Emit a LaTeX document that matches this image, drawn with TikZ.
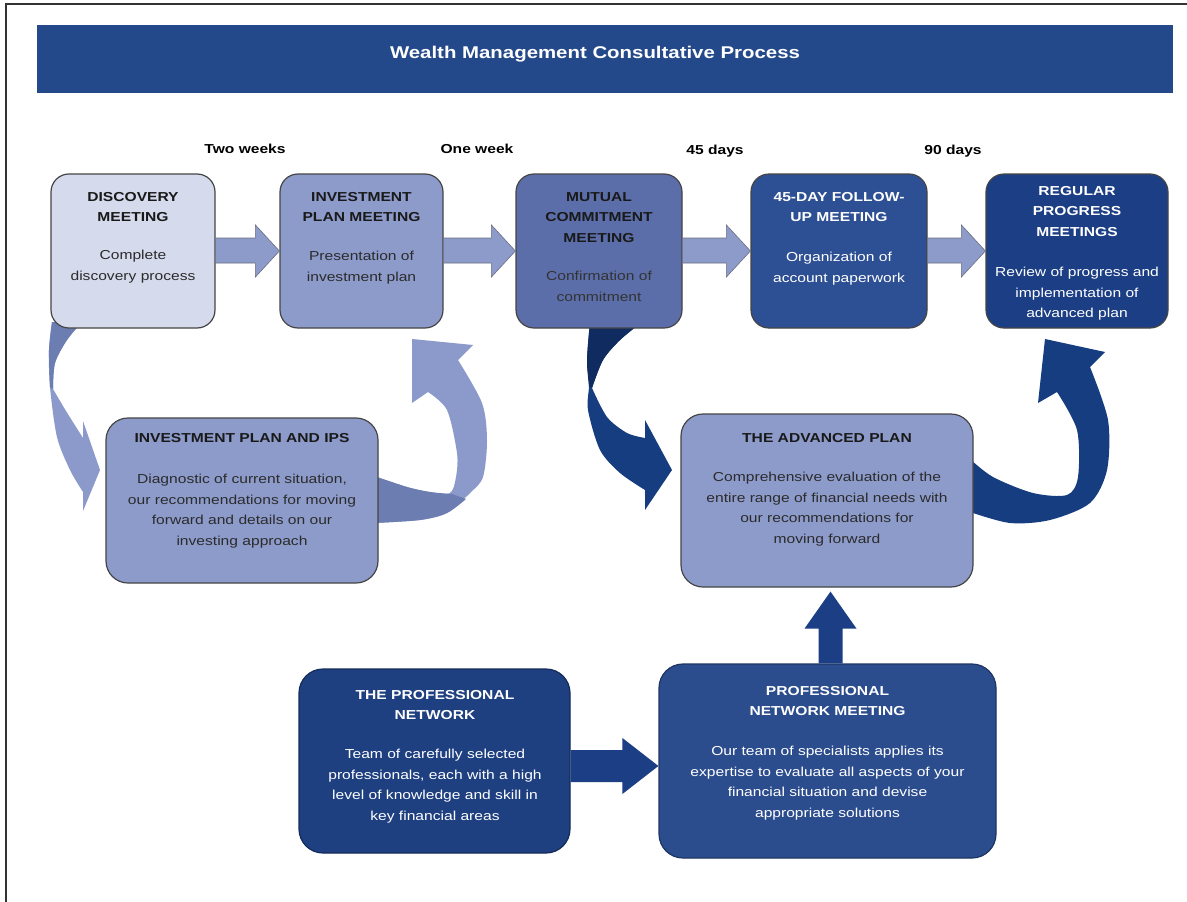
\documentclass[tikz,border=0pt]{standalone}
\usepackage{fontspec}
\setmainfont{Liberation Sans}[FakeStretch=1.2]
\usetikzlibrary{calc}

\definecolor{hdr}{HTML}{24498A}
\definecolor{paleA}{HTML}{D5DAEC}
\definecolor{midA}{HTML}{8D9BCB}
\definecolor{midB}{HTML}{5B6EAA}
\definecolor{deepA}{HTML}{2D4F93}
\definecolor{deepB}{HTML}{1B3E84}
\definecolor{navyA}{HTML}{1E3F80}
\definecolor{navyB}{HTML}{2B4C8D}
\definecolor{ribLight}{HTML}{8B9ACA}
\definecolor{ribLightBack}{HTML}{6C7DB1}
\definecolor{ribDark}{HTML}{163D80}
\definecolor{ribDarkBack}{HTML}{0F2B60}
\definecolor{edge}{HTML}{454545}
\definecolor{bodytxt}{HTML}{2B2B2B}
\definecolor{arrowedge}{HTML}{6A6F80}

\tikzset{
  stage/.style={draw=edge, line width=1.2pt, rounded corners=18pt, inner sep=0pt},
  headtxt/.style={font=\fontsize{13}{20.5}\selectfont\bfseries, align=center, anchor=north, inner sep=0pt},
  bodytext/.style={font=\fontsize{13}{20.5}\selectfont, align=center, anchor=north, inner sep=0pt},
  timetxt/.style={font=\fontsize{13}{15}\selectfont\bfseries, anchor=base, inner sep=0pt},
  flatarrow/.style={fill=midA, draw=arrowedge, line width=0.6pt, line join=miter},
  navyarrow/.style={fill=deepB, draw=none},
  pageedge/.style={draw=black!80, line width=2pt},
}

\begin{document}
\begin{tikzpicture}[x=1pt,y=-1pt]
\useasboundingbox (0,0) rectangle (1187,902);
\fill[white] (0,0) rectangle (1187,902);

% page rule
\draw[pageedge] (6,902) -- (6,4) -- (1187,4);

% title band
\node[fill=hdr, minimum width=1136pt, minimum height=68pt, inner sep=0pt] (band) at (605,59) {};
\node[anchor=base, inner sep=0pt, text=white, font=\fontsize{17}{20}\selectfont\bfseries] (title) at (595,58) {Wealth Management Consultative Process};

% time spans between the meetings
\node[timetxt] (t1) at (245,153) {Two weeks};
\node[timetxt] (t2) at (477,153) {One week};
\node[timetxt] (t3) at (715,154) {45 days};
\node[timetxt] (t4) at (953,154) {90 days};

% curled ribbons (drawn first, the boxes cover their roots)
% light ribbon: discovery -> investment plan and IPS
\fill[ribLight] plot[smooth] coordinates {(52,322) (49,350) (50,387) (57,437) (70,470) (83,492)}
  -- (83,511) -- (100,470) -- (83,421) -- (83,438)
  -- plot[smooth] coordinates {(83,438) (66,411) (53,389)}
  -- plot[smooth] coordinates {(53,389) (55,363) (67,340) (82,322)} -- cycle;
\fill[ribLightBack] plot[smooth] coordinates {(52,322) (49,350) (50,387)}
  -- (53,389) -- plot[smooth] coordinates {(53,389) (55,363) (67,340) (82,322)} -- cycle;

% light ribbon: investment plan and IPS -> investment plan meeting
\fill[ribLight] plot[smooth] coordinates {(374,523) (420,520) (447,513) (470,493) (483,477) (487,440) (482,403) (458,360)}
  -- (473,345) -- (412,339) -- (412,403) -- (428,392)
  -- plot[smooth] coordinates {(428,392) (447,410) (457,453) (456,477) (450,493) (430,492) (407,487) (374,476)} -- cycle;
\fill[ribLightBack] plot[smooth] coordinates {(374,476) (407,487) (430,492) (452,494)}
  -- (466,499) -- plot[smooth] coordinates {(466,499) (447,513) (420,520) (374,523)} -- cycle;

% navy ribbon: mutual commitment -> advanced plan
\fill[ribDark] plot[smooth] coordinates {(590,322) (587,360) (589,385) (588,410) (600,450) (620,473) (645,490)}
  -- (645,510) -- (672,470) -- (645,420) -- (645,438)
  -- plot[smooth] coordinates {(645,438) (627,433) (607,417) (592,388)}
  -- plot[smooth] coordinates {(592,388) (603,360) (620,340) (642,322)} -- cycle;
\fill[ribDarkBack] plot[smooth] coordinates {(590,322) (587,360) (589,386)}
  -- (592,388) -- plot[smooth] coordinates {(592,388) (603,360) (620,340) (642,322)} -- cycle;

% navy ribbon: advanced plan -> regular progress meetings
\fill[ribDark] plot[smooth] coordinates {(970,512) (1010,523) (1050,520) (1090,503) (1107,470) (1108,420) (1090,367)}
  -- (1105,352) -- (1045,339) -- (1038,403) -- (1057,392)
  -- plot[smooth] coordinates {(1057,392) (1077,430) (1078,477) (1067,495) (1033,493) (993,477) (970,459)} -- cycle;

% top row of meetings
\node[stage, fill=paleA, minimum width=164pt, minimum height=154pt] (disc) at (133,251) {};
\node[stage, fill=midA,  minimum width=163pt, minimum height=154pt] (ipm)  at (361.5,251) {};
\node[stage, fill=midB,  minimum width=166pt, minimum height=154pt] (mcm)  at (599,251) {};
\node[stage, fill=deepA, minimum width=176pt, minimum height=154pt] (fum)  at (839,251) {};
\node[stage, fill=deepB, minimum width=182pt, minimum height=154pt] (rpm)  at (1077,251) {};

\node[headtxt, text=black!90]   (discT) at (133,192) {DISCOVERY\\MEETING};
\node[bodytext, text=bodytxt]   (discB) at (133,250) {Complete\\discovery process};
\node[headtxt, text=black!90]   (ipmT)  at (361.5,192) {INVESTMENT\\PLAN MEETING};
\node[bodytext, text=bodytxt]   (ipmB)  at (361.5,251) {Presentation of\\investment plan};
\node[headtxt, text=black!90]   (mcmT)  at (599,192) {MUTUAL\\COMMITMENT\\MEETING};
\node[bodytext, text=black!80]  (mcmB)  at (599,271) {Confirmation of\\commitment};
\node[headtxt, text=white]      (fumT)  at (839,192) {45-DAY FOLLOW-\\UP MEETING};
\node[bodytext, text=white]     (fumB)  at (839,252) {Organization of\\account paperwork};
\node[headtxt, text=white]      (rpmT)  at (1077,186) {REGULAR\\PROGRESS\\MEETINGS};
\node[bodytext, text=white]     (rpmB)  at (1077,267) {Review of progress and\\implementation of\\advanced plan};

% plans
\node[stage, rounded corners=22pt, fill=midA, minimum width=272pt, minimum height=165pt] (ips) at (242,500.5) {};
\node[headtxt, text=black!90] (ipsT) at (242,433) {INVESTMENT PLAN AND IPS};
\node[bodytext, text=bodytxt] (ipsB) at (242,474) {Diagnostic of current situation,\\our recommendations for moving\\forward and details on our\\investing approach};

\node[stage, rounded corners=22pt, fill=midA, minimum width=292pt, minimum height=173pt] (adv) at (827,500.5) {};
\node[headtxt, text=black!90] (advT) at (827,433) {THE ADVANCED PLAN};
\node[bodytext, text=bodytxt] (advB) at (827,472) {Comprehensive evaluation of the\\entire range of financial needs with\\our recommendations for\\moving forward};

% network
\node[stage, rounded corners=24pt, draw=navyA!70!black, fill=navyA, minimum width=271pt, minimum height=184pt] (pn) at (434.5,761) {};
\node[headtxt, text=white] (pnT) at (435,690) {THE PROFESSIONAL\\NETWORK};
\node[bodytext, text=white] (pnB) at (435,749) {Team of carefully selected\\professionals, each with a high\\level of knowledge and skill in\\key financial areas};

\node[stage, rounded corners=24pt, draw=navyB!70!black, fill=navyB, minimum width=337pt, minimum height=194pt] (pnm) at (827.5,761) {};
\node[headtxt, text=white] (pnmT) at (827.5,686) {PROFESSIONAL\\NETWORK MEETING};
\node[bodytext, text=white] (pnmB) at (827.5,746) {Our team of specialists applies its\\expertise to evaluate all aspects of your\\financial situation and devise\\appropriate solutions};

% block arrows along the top row
\foreach \a/\b in {disc/ipm, ipm/mcm, mcm/fum, fum/rpm}{
  \path[flatarrow] let \p1=(\a.east), \p2=(\b.west) in
    (\x1,\y1+13pt) -- (\x2-24pt,\y1+13pt) -- (\x2-24pt,\y1+26pt) -- (\x2,\y1)
    -- (\x2-24pt,\y1-26pt) -- (\x2-24pt,\y1-12pt) -- (\x1,\y1-12pt) -- cycle;
}

% network -> meeting
\path[navyarrow] let \p1=(pn.east), \p2=(pnm.west) in
  (\x1,\y1+11pt) -- (\x2-36pt,\y1+11pt) -- (\x2-36pt,\y1+23pt) -- (\x2,\y1-5pt)
  -- (\x2-36pt,\y1-33pt) -- (\x2-36pt,\y1-21pt) -- (\x1,\y1-21pt) -- cycle;

% meeting -> advanced plan
\path[navyarrow] let \p1=(pnm.north), \p2=(adv.south) in
  (\x1-9pt,\y1) -- (\x1-9pt,\y2-41pt) -- (\x1-23pt,\y2-41pt) -- (\x1+3pt,\y2-4pt)
  -- (\x1+29pt,\y2-41pt) -- (\x1+15pt,\y2-41pt) -- (\x1+15pt,\y1) -- cycle;
\end{tikzpicture}
\end{document}
